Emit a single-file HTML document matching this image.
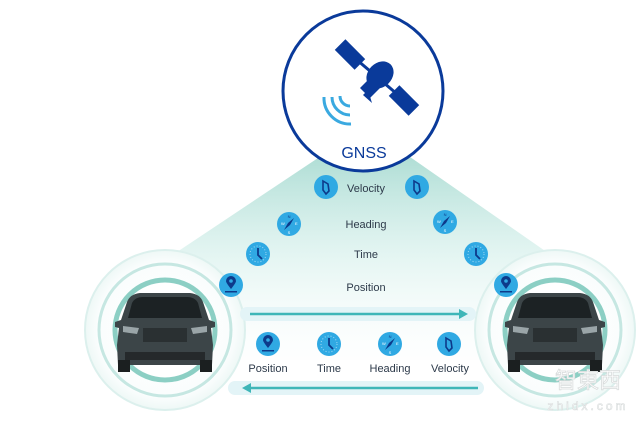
<!DOCTYPE html>
<html><head><meta charset="utf-8"><style>
html,body{margin:0;padding:0;background:#fff;}
svg{display:block;font-family:"Liberation Sans",sans-serif;}
</style></head><body>
<svg width="640" height="428" viewBox="0 0 640 428" xmlns="http://www.w3.org/2000/svg">
<defs>
<linearGradient id="cone" x1="0" y1="0" x2="0" y2="1">
<stop offset="0" stop-color="#8fd0c4" stop-opacity="0.75"/>
<stop offset="0.5" stop-color="#c8ebe5" stop-opacity="0.5"/>
<stop offset="1" stop-color="#f2faf9" stop-opacity="0.1"/>
</linearGradient>
<radialGradient id="carg" cx="0.5" cy="0.5" r="0.5">
<stop offset="0" stop-color="#ffffff"/><stop offset="0.85" stop-color="#fafdfd"/><stop offset="1" stop-color="#eef8f6"/>
</radialGradient>
<g id="ic"><circle r="12" fill="#30a9e3"/></g>
<g id="vel"><use href="#ic"/><path d="M-3,-6 L2,-3 L3,4 L0,7 L-3,3 Z" fill="none" stroke="#0d3a8a" stroke-width="1.6"/></g>
<g id="tim"><use href="#ic"/><circle r="8" fill="none" stroke="#9fd8f3" stroke-width="1" stroke-dasharray="1 2"/><path d="M0,-6 V1 L4,5" fill="none" stroke="#0d3a8a" stroke-width="1.8"/></g>
<g id="hdg"><use href="#ic"/><path d="M5,-6 L1,1 L-5,6 L-1,-1 Z" fill="#0d3a8a"/><text x="0" y="-6" font-size="4" fill="#0d3a8a" text-anchor="middle">N</text><text x="-8" y="1" font-size="4" fill="#fff">W</text><text x="6" y="1" font-size="4" fill="#fff">E</text><text x="0" y="10" font-size="4" fill="#fff" text-anchor="middle">S</text></g>
<g id="pos"><use href="#ic"/><path d="M0,4 C-4,-1 -5,-3 -5,-4 A5,5 0 0 1 5,-4 C5,-3 4,-1 0,4 Z" fill="#0d3a8a"/><circle cy="-4" r="1.8" fill="#30a9e3"/><rect x="-6" y="6" width="12" height="1.5" fill="#0d3a8a"/></g>
<g id="car">
<path d="M-38,-28 Q-35,-36 -25,-37 L25,-37 Q35,-36 38,-28 L44,-10 L50,-8 L50,-3 L46,-2 L48,15 L47,35 L-47,35 L-48,15 L-46,-2 L-50,-3 L-50,-8 L-44,-10 Z" fill="#3c4548"/>
<path d="M-33,-27 Q-30,-33 -22,-33 L22,-33 Q30,-33 33,-27 L37,-12 L-37,-12 Z" fill="#1c2224"/>
<rect x="-22" y="-2" width="44" height="14" fill="#2a3032"/>
<path d="M-42,-4 L-26,-2 L-28,4 L-42,2 Z" fill="#9aa5a8"/><path d="M42,-4 L26,-2 L28,4 L42,2 Z" fill="#9aa5a8"/>
<rect x="-40" y="22" width="80" height="8" fill="#25292b"/>
<rect x="-47" y="30" width="12" height="12" fill="#1b1f20"/><rect x="35" y="30" width="12" height="12" fill="#1b1f20"/>
</g>
</defs>
<rect width="640" height="428" fill="#fff"/>
<polygon points="330,150 400,150 630,310 560,360 160,360 90,310" fill="url(#cone)"/>
<circle cx="165" cy="330" r="80" fill="url(#carg)" stroke="#dcf0ed" stroke-width="2"/>
<circle cx="165" cy="330" r="66" fill="none" stroke="#c6e7e2" stroke-width="3"/>
<circle cx="165" cy="330" r="50" fill="#fff" stroke="#8ccfc4" stroke-width="5"/>
<use href="#car" x="165" y="330"/>
<circle cx="555" cy="330" r="80" fill="url(#carg)" stroke="#dcf0ed" stroke-width="2"/>
<circle cx="555" cy="330" r="66" fill="none" stroke="#c6e7e2" stroke-width="3"/>
<circle cx="555" cy="330" r="50" fill="#fff" stroke="#8ccfc4" stroke-width="5"/>
<use href="#car" x="555" y="330"/>
<circle cx="363" cy="91" r="80" fill="#fff" stroke="#0a3a9a" stroke-width="3"/>
<g fill="#0a3a9a">
<rect x="336" y="47" width="28" height="15" transform="rotate(45 350 54.5)"/>
<rect x="390" y="93" width="28" height="15" transform="rotate(45 404 100.5)"/>
<line x1="350" y1="54" x2="404" y2="100" stroke="#0a3a9a" stroke-width="3"/>
<ellipse cx="380" cy="75" rx="12" ry="15" transform="rotate(45 380 75)"/>
<path d="M360,88 L370,78 L380,88 L370,98 Z"/>
<path d="M363,95 L368,90 L372,103 Z"/>
</g>
<g fill="none" stroke="#3aa9e0" stroke-width="3">
<path d="M340,96 A10,10 0 0 0 350,106"/><path d="M332,97 A18,18 0 0 0 350,115"/><path d="M324,97 A26,26 0 0 0 351,124"/>
</g>
<text x="364" y="158" font-size="16" fill="#0a3a9a" text-anchor="middle">GNSS</text>
<use href="#vel" x="326" y="187"/><use href="#hdg" x="289" y="224"/><use href="#tim" x="258" y="254"/><use href="#pos" x="231" y="285"/>
<use href="#vel" x="417" y="187"/><use href="#hdg" x="445" y="222"/><use href="#tim" x="476" y="254"/><use href="#pos" x="506" y="285"/>
<g font-size="11" fill="#2d3a4a" text-anchor="middle">
<text x="366" y="192">Velocity</text><text x="366" y="228">Heading</text><text x="366" y="258">Time</text><text x="366" y="291">Position</text>
</g>
<rect x="240" y="307" width="236" height="14" rx="7" fill="#e3f4f7"/>
<line x1="250" y1="314" x2="462" y2="314" stroke="#3fb6b8" stroke-width="2.5"/>
<path d="M468,314 L459,309 L459,319 Z" fill="#3fb6b8"/>
<rect x="228" y="381" width="256" height="14" rx="7" fill="#e3f4f7"/>
<line x1="478" y1="388" x2="250" y2="388" stroke="#3fb6b8" stroke-width="2.5"/>
<path d="M242,388 L251,383 L251,393 Z" fill="#3fb6b8"/>
<use href="#pos" x="268" y="344"/><use href="#tim" x="329" y="344"/><use href="#hdg" x="390" y="344"/><use href="#vel" x="449" y="344"/>
<g font-size="11" fill="#2d3a4a" text-anchor="middle">
<text x="268" y="372">Position</text><text x="329" y="372">Time</text><text x="390" y="372">Heading</text><text x="450" y="372">Velocity</text>
</g>
<text x="588" y="388" font-size="22" fill="#ffffff" stroke="#d8dcdc" stroke-width="0.8" text-anchor="middle" font-family="'Noto Sans CJK SC',sans-serif">智東西</text>
<text x="588" y="410" font-size="12" fill="#fff" stroke="#d8dcdc" stroke-width="0.6" text-anchor="middle" letter-spacing="3">zhidx.com</text>
</svg>
</body></html>
